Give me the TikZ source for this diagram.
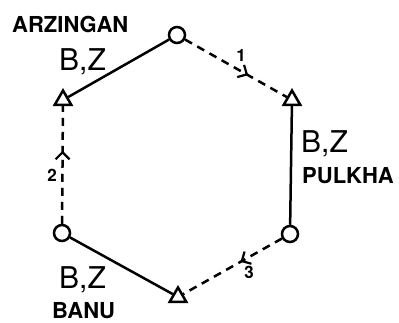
\documentclass[tikz,border=0pt]{standalone}
\usepackage{fontspec}
\setmainfont{TeX Gyre Heros}
\usetikzlibrary{shapes.geometric,decorations.markings,arrows.meta}
\begin{document}
\begin{tikzpicture}[x=1pt,y=-1pt,
  lw/.style={line width=2.5pt},
  circ/.style={circle,draw,lw,minimum size=16pt,inner sep=0pt},
  tri/.style={regular polygon,regular polygon sides=3,draw,lw,minimum size=19pt,inner sep=0pt},
  solidline/.style={lw},
  dashline/.style={lw,dash pattern=on 8pt off 6pt},
  midarrow/.style={postaction={decorate},decoration={markings,mark=at position #1 with {\arrow[line width=2.2pt]{Straight Barb[length=7pt,width=14pt]}}}},
  placelabel/.style={font=\bfseries\fontsize{22}{22}\selectfont,anchor=base west,inner sep=0pt},
  bz/.style={font=\fontsize{30}{30}\selectfont,anchor=base west,inner sep=0pt},
  num/.style={font=\bfseries\fontsize{17}{17}\selectfont}
]
\useasboundingbox (0,0) rectangle (399,322);
\node[circ] (top) at (177,35) {};
\node[tri] (tl) at (63,100) {};
\node[tri] (tr) at (292,100) {};
\node[circ] (rc) at (290,234) {};
\node[circ] (lc) at (62,233) {};
\node[tri] (bt) at (178,297) {};

\draw[solidline] (top) -- (tl);
\draw[solidline] (tr) -- (rc);
\draw[solidline] (lc) -- (bt);
\draw[dashline,midarrow=0.62] (top) -- (tr);
\draw[dashline,midarrow=0.42] (rc) -- (bt);
\draw[dashline,midarrow=0.62] (lc) -- (tl);

\node[placelabel] (arz) at (12,32) {ARZINGAN};
\node[bz] (bz1) at (59,70) {B,Z};
\node[bz] (bz2) at (301,152) {B,Z};
\node[placelabel] (pul) at (302,183) {PULKHA};
\node[bz] (bz3) at (59,288) {B,Z};
\node[placelabel] (banu) at (52,318) {BANU};
\node[num] (n1) at (241,55) {1};
\node[num] (n2) at (52,175) {2};
\node[num] (n3) at (249,272) {3};
\end{tikzpicture}
\end{document}
